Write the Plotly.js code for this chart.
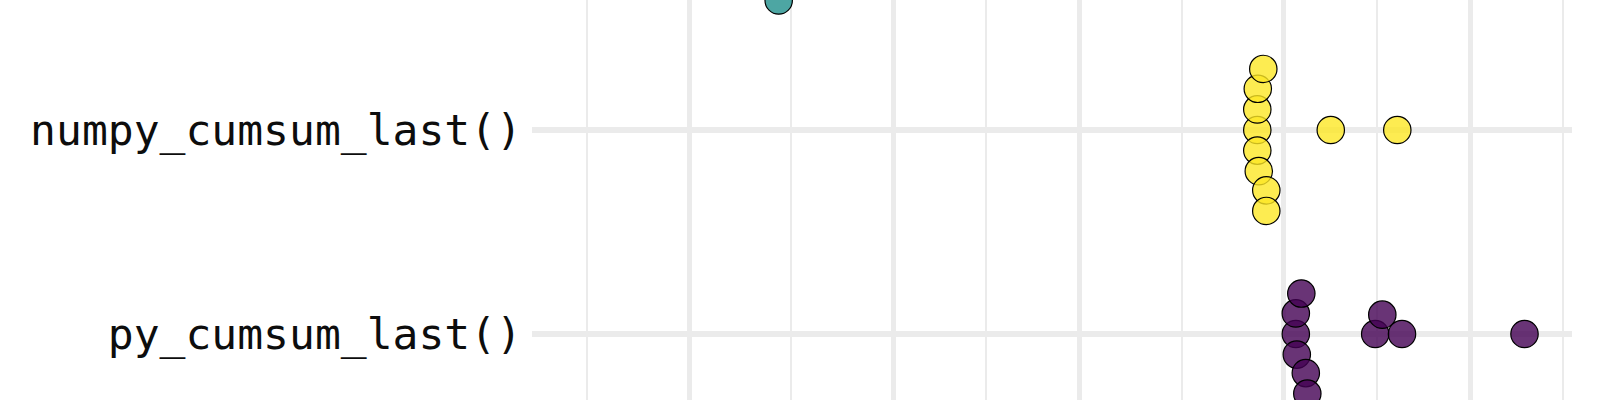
<!DOCTYPE html>
<html>
<head>
<meta charset="utf-8">
<script src="https://cdn.plot.ly/plotly-3.0.1.min.js"></script>
<style>
  html, body { margin: 0; padding: 0; background: #ffffff; }
  #chart { width: 1600px; height: 400px; }
</style>
</head>
<body>
<div id="chart"></div>
<script>
// ---------------- data ----------------
// y categories, bottom to top (the third, top row is cut off in the crop; its label is not visible)
const categoryLabels = ['py_cumsum_last()', 'numpy_cumsum_last()'];

// timings per function (x axis, log scale)
const pyCumsumLast    = [107.41, 107.41, 108.04, 110.95, 113.93, 114.95, 171.54, 178.87, 200.9, 413.7];
const numpyCumsumLast = [85.59, 85.59, 85.59, 85.84, 86.35, 88.67, 90.25, 90.25, 132.0, 195.4];
// third (fastest) function: only the lowest point of its swarm shows at the top edge
const topFunction     = [4.5919, 4.5919, 4.5919, 4.5919, 4.5919, 4.5919, 5.0521, 5.0700, 5.091];

// x axis major breaks
const xMajorTicks = [3, 10, 30, 100, 300];

// ---------------- layout constants ----------------
const W = 1600, H = 400;
const margin = { l: 532, r: 28, t: 0, b: 0 };
const plotW = W - margin.l - margin.r;
const plotH = H - margin.t - margin.b;
const pxPerDecade = 390.5;
const xLogMin = Math.log10(3) - 157 / pxPerDecade;
const xLogMax = xLogMin + plotW / pxPerDecade;
const pxPerRow = 204;
const yMin = 0 - (400 - 334) / pxPerRow;
const yMax = 1 + 130 / pxPerRow;
const swarmSpacing = 20.6; // px

// minor breaks: midpoints (log space) between majors, extended one step to the left and right
const logMaj = xMajorTicks.map(Math.log10);
const minorLog = [logMaj[0] - (logMaj[1] - logMaj[0]) / 2];
for (let i = 0; i < logMaj.length - 1; i++) minorLog.push((logMaj[i] + logMaj[i + 1]) / 2);
minorLog.push(logMaj[logMaj.length - 1] + (logMaj[logMaj.length - 1] - logMaj[logMaj.length - 2]) / 2);
const xMinorTicks = minorLog.map(v => Math.pow(10, v));

// beeswarm (swarm method, ascending priority) in pixel space
function swarmOffsets(values) {
  const d = swarmSpacing;
  const order = values.map((v, i) => i).sort((a, b) => values[a] - values[b]);
  const placed = [];
  const out = new Array(values.length).fill(0);
  for (const i of order) {
    const xi = Math.log10(values[i]) * pxPerDecade / d;
    let yi = 0;
    const pre = placed.filter(p => Math.abs(xi - p.x) < 1);
    if (pre.length) {
      const offs = pre.map(p => Math.sqrt(1 - (xi - p.x) * (xi - p.x)));
      const cands = [0].concat(pre.map((p, k) => p.y + offs[k]), pre.map((p, k) => p.y - offs[k]));
      let best = Infinity;
      for (const c of cands) {
        const bad = pre.some(p => (xi - p.x) * (xi - p.x) + (c - p.y) * (c - p.y) < 0.999);
        if (!bad && Math.abs(c) < best) { best = Math.abs(c); yi = c; }
      }
    }
    placed.push({ x: xi, y: yi });
    out[i] = yi * d;
  }
  return out;
}

function makeTrace(values, row, fill) {
  const offs = swarmOffsets(values);
  return {
    type: 'scatter',
    mode: 'markers',
    x: values,
    y: offs.map(o => row + o / pxPerRow),
    cliponaxis: true,
    hoverinfo: 'skip',
    showlegend: false,
    marker: { size: 27.4, color: fill, line: { color: '#000000', width: 1.2 } }
  };
}

const traces = [
  makeTrace(pyCumsumLast, 0, 'rgba(68,1,84,0.8)'),
  makeTrace(topFunction, 2, 'rgba(33,144,140,0.8)'),
  makeTrace(numpyCumsumLast, 1, 'rgba(253,231,37,0.8)')
];

const layout = {
  width: W, height: H,
  margin: { l: margin.l, r: margin.r, t: margin.t, b: margin.b, pad: 0 },
  paper_bgcolor: '#ffffff',
  plot_bgcolor: '#ffffff',
  showlegend: false,
  xaxis: {
    type: 'log',
    range: [xLogMin, xLogMax],
    tickmode: 'array',
    tickvals: xMajorTicks,
    showticklabels: false,
    ticks: '',
    showgrid: true,
    gridcolor: '#EBEBEB',
    gridwidth: 5,
    zeroline: false,
    showline: false,
    minor: { tickmode: 'array', tickvals: xMinorTicks, showgrid: true, gridcolor: '#EBEBEB', gridwidth: 2, ticks: '' }
  },
  yaxis: {
    range: [yMin, yMax],
    tickmode: 'array',
    tickvals: [0, 1],
    ticktext: categoryLabels,
    ticks: '',
    ticklabelstandoff: 9,
    tickfont: { family: 'DejaVu Sans Mono', size: 43, color: '#0d0d0d' },
    showgrid: true,
    gridcolor: '#EBEBEB',
    gridwidth: 5.5,
    zeroline: false,
    showline: false
  }
};

Plotly.newPlot('chart', traces, layout, { staticPlot: true, displayModeBar: false });
</script>
</body>
</html>
